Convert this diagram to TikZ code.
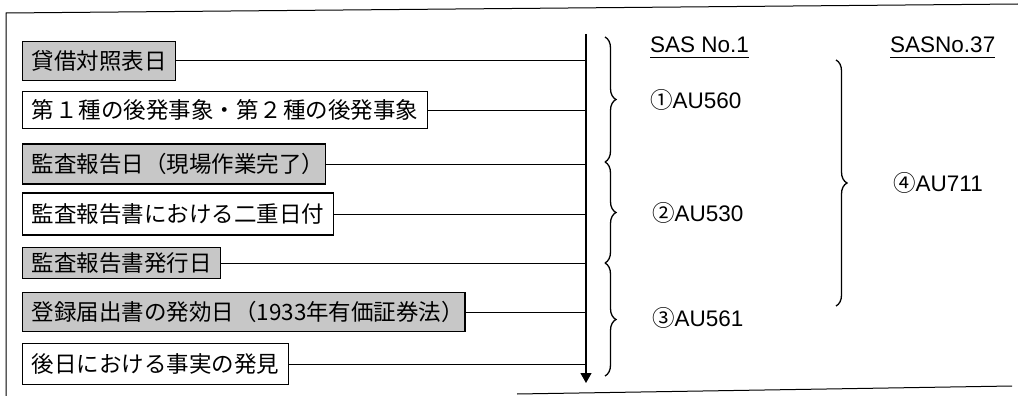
\documentclass[tikz,border=0pt]{standalone}
\usepackage{fontspec}
\setmainfont{Liberation Sans}
\newfontfamily\cjk{Noto Sans CJK JP}
\usetikzlibrary{arrows.meta,decorations.pathreplacing}
\begin{document}
\begin{tikzpicture}[x=1pt,y=-1pt,
 box/.style={draw,line width=1.1pt,anchor=west,inner xsep=9pt,inner ysep=0pt,font=\cjk\fontsize{22.5}{26}\selectfont},
 graybox/.style={box,fill=black!22},
 wbox/.style={box,fill=white},
 link/.style={line width=1pt},
 frame/.style={line width=1pt},
 lab/.style={anchor=base west,inner sep=0pt,font=\fontsize{22.5}{26}\selectfont},
 brc/.style={decorate,decoration={brace,amplitude=11pt},line width=1.3pt}]
\useasboundingbox (0,0) rectangle (1018,396);
% frame
\draw[frame] (6,396) -- (6,13) -- (1018,4);
\draw[frame] (517,394) -- (1012,386);
% timeline
\coordinate (ttop) at (586,34);
\coordinate (tbot) at (586,383);
\draw[line width=1.2pt,-{Triangle[width=11pt,length=10pt]}] (ttop) -- (tbot);
% boxes
\node[graybox,minimum height=39pt] (b1) at (22,61) {貸借対照表日};
\node[wbox,minimum height=37pt] (b2) at (22,110) {第\kern1pt１\kern1pt種の後発事象・第\kern1pt２\kern1pt種の後発事象};
\node[graybox,minimum height=40pt] (b3) at (22,164) {監査報告日（現場作業完了）\kern-8pt};
\node[wbox,minimum height=42pt] (b4) at (22,214) {監査報告書における二重日付};
\node[graybox,minimum height=31pt] (b5) at (22,263) {監査報告書発行日};
\node[graybox,minimum height=39pt] (b6) at (22,312) {登録届出書の発効日（1933年有価証券法）\kern-8pt};
\node[wbox,minimum height=41pt] (b7) at (22,364) {後日における事実の発見};
\foreach \b in {b1,b2,b3,b4,b5,b6,b7}
  \draw[link] (\b.east) -- (\b.east -| ttop);
% braces
\coordinate (ba1) at (605,37);
\coordinate (ba2) at (605,162);
\coordinate (bb2) at (605,263);
\coordinate (bc2) at (605,376);
\draw[brc] (ba1) -- (ba2);
\draw[brc] (ba2) -- (bb2);
\draw[brc] (bb2) -- (bc2);
\coordinate (bd1) at (836,60);
\coordinate (bd2) at (836,306);
\draw[brc] (bd1) -- (bd2);
% labels
\node[lab] (h1) at (650,53) {SAS No.1};
\draw[line width=1pt] ([yshift=-4.5pt]h1.base west) -- ([yshift=-4.5pt]h1.base east);
\node[lab] (h2) at (890,53) {SASNo.37};
\draw[line width=1pt] ([yshift=-4.5pt]h2.base west) -- ([yshift=-4.5pt]h2.base east);
\node[lab] (r1) at (650,108) {{\cjk ①}AU560};
\node[lab] (r2) at (652,221) {{\cjk ②}AU530};
\node[lab] (r3) at (652,326) {{\cjk ③}AU561};
\node[lab] (r4) at (893,191) {{\cjk ④}AU711};
\end{tikzpicture}
\end{document}
